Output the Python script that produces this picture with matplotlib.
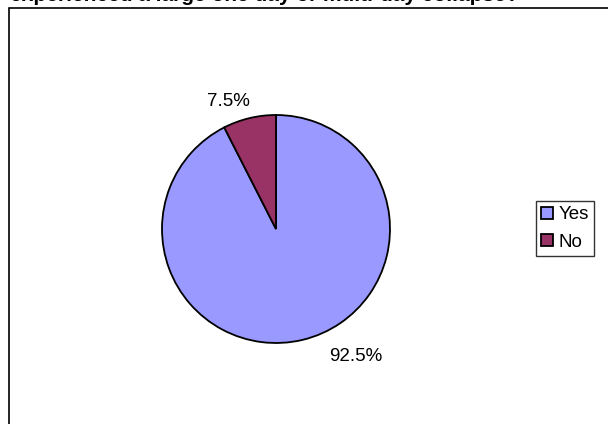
import matplotlib
matplotlib.use("Agg")
import matplotlib.pyplot as plt
from matplotlib.patches import Rectangle

labels = ["Yes", "No"]
values = [92.5, 7.5]
colors = ["#9999FF", "#993366"]
# where the percentage labels sit, in pie radii from the centre
label_pos = [(0.70, -1.12), (-0.42, 1.12)]

plt.rcParams["font.family"] = ["Liberation Sans", "DejaVu Sans"]

W, H = 608, 424
fig = plt.figure(figsize=(W / 100, H / 100), dpi=100)

# plot area frame (right/bottom run off the image)
fig.patches.append(Rectangle((9 / W, -0.1), 1.0, 1 - 8 / H + 0.1,
                             transform=fig.transFigure, fill=False,
                             edgecolor="black", linewidth=1.2))

# title, mostly cut off at the top
fig.text(10 / W, 1 - 1.0 / H,
         "experienced a large one day or multi-day collapse?",
         fontsize=15, fontweight="bold", ha="left", va="baseline")

cx, cy, r = 276, 229, 114
ax = fig.add_axes([(cx - r) / W, 1 - (cy + r) / H, 2 * r / W, 2 * r / H])
wedges, _ = ax.pie(
    values, colors=colors, startangle=90, counterclock=False,
    wedgeprops=dict(edgecolor="black", linewidth=1.3))
for v, (lx, ly) in zip(values, label_pos):
    ax.text(lx, ly, f"{v:.1f}%", fontsize=13.5, ha="center", va="center",
            clip_on=False)
ax.set_xlim(-1, 1)
ax.set_ylim(-1, 1)
ax.set_aspect("equal")
ax.axis("off")

leg = fig.legend(wedges, labels, loc="upper left",
                 bbox_to_anchor=(536 / W, 1 - 201 / H),
                 frameon=True, fancybox=False, edgecolor="black",
                 fontsize=13.5, handlelength=0.6, handleheight=0.6,
                 handletextpad=0.3, borderpad=0.28, labelspacing=0.57,
                 borderaxespad=0)
leg.get_frame().set_linewidth(1.0)

fig.savefig("out.png", dpi=100)
